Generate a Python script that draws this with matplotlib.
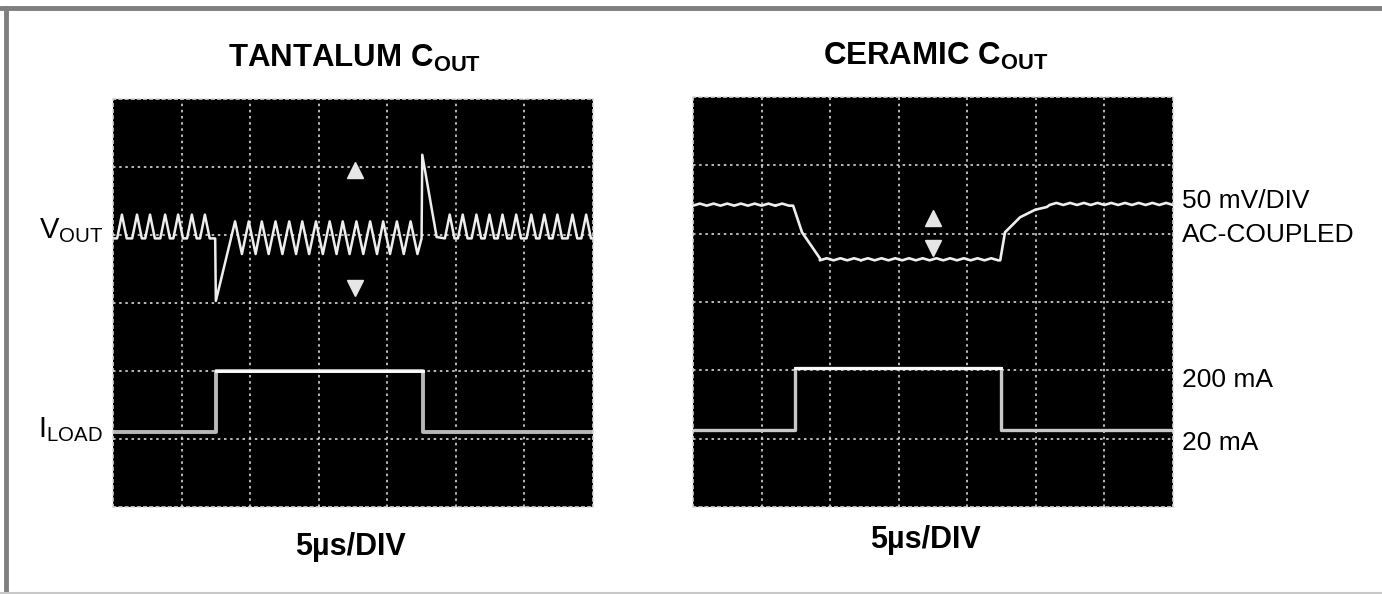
import matplotlib
matplotlib.use("Agg")
import matplotlib.pyplot as plt
from matplotlib.lines import Line2D

plt.rcParams['font.family'] = 'Liberation Sans'
plt.rcParams['mathtext.fontset'] = 'custom'
plt.rcParams['mathtext.rm'] = 'Liberation Sans'
plt.rcParams['mathtext.bf'] = 'Liberation Sans:bold'

W, H = 1382, 594

# ---- data (in scope divisions: 7 x 6 screen) ----
# tantalum Vout: ripple peak times, levels and step response
tan_peaks_light1 = [0.13, 0.35, 0.54, 0.76, 0.95, 1.15, 1.34]
tan_peaks_heavy = [1.78, 1.98, 2.17, 2.37, 2.57, 2.76, 2.96, 3.16, 3.35, 3.55, 3.75, 3.94, 4.14, 4.34]
tan_peaks_light2 = [4.91, 5.10, 5.30, 5.49, 5.68, 5.88, 6.10, 6.29, 6.48, 6.70, 6.90]
tan_light_base, tan_light_peak = 3.95, 4.30
tan_heavy_top, tan_heavy_bottom = 4.20, 3.72
tan_step_on, tan_undershoot = 1.50, 3.03
tan_step_off, tan_overshoot = 4.50, 5.18
tan_settle_t, tan_settle_v = 4.72, 3.97

# tantalum Iload
tan_iload_t = [0, 1.50, 1.50, 4.52, 4.52, 7]
tan_iload_v = [1.10, 1.10, 2.00, 2.00, 1.10, 1.10]

# ceramic Vout
cer_high, cer_low, cer_wiggle = 4.41, 3.61, 0.03
cer_wiggle1 = [0.10, 0.30, 0.50, 0.70, 0.90, 1.10, 1.30]
cer_fall_t = [1.46, 1.59, 1.85]
cer_fall_v = [4.41, 4.02, 3.64]
cer_wiggle2 = [1.95, 2.15, 2.35, 2.55, 2.75, 2.95, 3.15, 3.35, 3.55, 3.75, 3.95, 4.15, 4.35]
cer_rise_t = [4.48, 4.55, 4.77, 4.99, 5.16]
cer_rise_v = [3.61, 4.02, 4.24, 4.35, 4.39]
cer_wiggle3 = [5.30, 5.50, 5.70, 5.90, 6.10, 6.30, 6.50, 6.70, 6.90]

# ceramic Iload
cer_iload_t = [0, 1.49, 1.49, 4.49, 4.49, 7]
cer_iload_v = [1.13, 1.13, 2.03, 2.03, 1.13, 1.13]

# trigger markers (x, y_up, y_down)
tan_marks = (3.53, 4.96, 3.22)
cer_marks = (3.50, 4.23, 3.79)


def box(l, t, r, b):
    return [l / W, 1 - b / H, (r - l) / W, (b - t) / H]


def ripple(peaks, base, top, hw=0.07):
    xs, ys = [], []
    for p in peaks:
        xs += [p - hw, p, p + hw]
        ys += [base, top, base]
    return xs, ys


def zigzag(peaks, top, bottom):
    xs, ys = [], []
    for p in peaks:
        xs += [p, p + 0.1]
        ys += [top, bottom]
    return xs, ys


def scope(rect):
    ax = fig.add_axes(rect)
    ax.set_facecolor('black')
    ax.set_xlim(0, 7)
    ax.set_ylim(0, 6)
    ax.set_xticks(range(1, 7))
    ax.set_yticks(range(1, 6))
    ax.grid(color='#d8d8d8', linestyle=(0, (1.5, 2.2)), lw=1.2)
    ax.tick_params(length=0, labelbottom=False, labelleft=False)
    for s in ax.spines.values():
        s.set_color('#d8d8d8')
        s.set_linestyle((0, (1.5, 2.2)))
        s.set_linewidth(1.2)
    return ax


fig = plt.figure(figsize=(W / 100, H / 100), dpi=100)

# ---- tantalum panel ----
ax1 = scope(box(113, 99, 593, 507))
x1, y1 = ripple(tan_peaks_light1, tan_light_base, tan_light_peak)
xh, yh = zigzag(tan_peaks_heavy, tan_heavy_top, tan_heavy_bottom)
x2, y2 = ripple(tan_peaks_light2, tan_light_base, tan_light_peak)
vx = [0] + x1 + [tan_step_on - 0.01, tan_step_on] + xh + [tan_step_off, tan_step_off + 0.01, tan_settle_t] + x2 + [7]
vy = [tan_light_base] + y1 + [tan_light_base, tan_undershoot] + yh + [tan_light_base, tan_overshoot, tan_settle_v] + y2 + [tan_light_base]
ax1.plot(vx, vy, color='#eeeeee', lw=1.8)
ax1.plot(tan_iload_t, tan_iload_v, color='#b8b8b8', lw=2.8)
ax1.plot(tan_iload_t[2:4], tan_iload_v[2:4], color='white', lw=2.0)
ax1.plot(tan_marks[0], tan_marks[1], marker='^', ms=11, color='#e6e6e6')
ax1.plot(tan_marks[0], tan_marks[2], marker='v', ms=11, color='#e6e6e6')

# ---- ceramic panel ----
ax2 = scope(box(693, 97, 1173, 507))
w1x, w1y = ripple(cer_wiggle1, cer_high, cer_high + cer_wiggle, hw=0.1)
w2x, w2y = ripple(cer_wiggle2, cer_low, cer_low + cer_wiggle, hw=0.1)
w3x, w3y = ripple(cer_wiggle3, cer_high + 0.01, cer_high + 0.01 + cer_wiggle, hw=0.1)
cx = [0] + w1x + cer_fall_t + w2x + cer_rise_t + w3x + [7]
cy = [cer_high] + w1y + cer_fall_v + w2y + cer_rise_v + w3y + [cer_high + 0.01]
ax2.plot(cx, cy, color='#eeeeee', lw=1.9)
ax2.plot(cer_iload_t, cer_iload_v, color='#c8c8c8', lw=2.4)
ax2.plot(cer_iload_t[2:4], cer_iload_v[2:4], color='white', lw=2.0)
ax2.plot(cer_marks[0], cer_marks[1], marker='^', ms=11, color='#e6e6e6')
ax2.plot(cer_marks[0], cer_marks[2], marker='v', ms=11, color='#e6e6e6')


def ftext(x, y, s, **kw):
    fig.text(x / W, 1 - y / H, s, **kw)


# titles and labels
ftext(355, 67, r'TANTALUM C$_{\mathbf{OUT}}$', ha='center', va='baseline', fontsize=22.5, fontweight='bold')
ftext(936, 65, r'CERAMIC C$_{\mathbf{OUT}}$', ha='center', va='baseline', fontsize=22.5, fontweight='bold')
ftext(350, 555, '5µs/DIV', ha='center', va='baseline', fontsize=22, fontweight='bold')
ftext(925, 548, '5µs/DIV', ha='center', va='baseline', fontsize=22, fontweight='bold')
ftext(103, 238, r'V$_{\mathregular{OUT}}$', ha='right', va='baseline', fontsize=21)
ftext(103, 437, r'I$_{\mathregular{LOAD}}$', ha='right', va='baseline', fontsize=21)
ftext(1182, 208, '50 mV/DIV', ha='left', va='baseline', fontsize=19)
ftext(1182, 242, 'AC-COUPLED', ha='left', va='baseline', fontsize=19)
ftext(1182, 387, '200 mA', ha='left', va='baseline', fontsize=19)
ftext(1182, 450, '20 mA', ha='left', va='baseline', fontsize=19)

# outer frame
fig.add_artist(Line2D([0, 1], [1 - 8 / H, 1 - 8 / H], color='#7f7f7f', lw=3.5))
fig.add_artist(Line2D([6 / W, 6 / W], [0, 1 - 8 / H], color='#7f7f7f', lw=3.5))
fig.add_artist(Line2D([0, 1], [1 - 593 / H, 1 - 593 / H], color='#c8c8c8', lw=1.5))

fig.savefig('out.png', dpi=100, facecolor='white')
